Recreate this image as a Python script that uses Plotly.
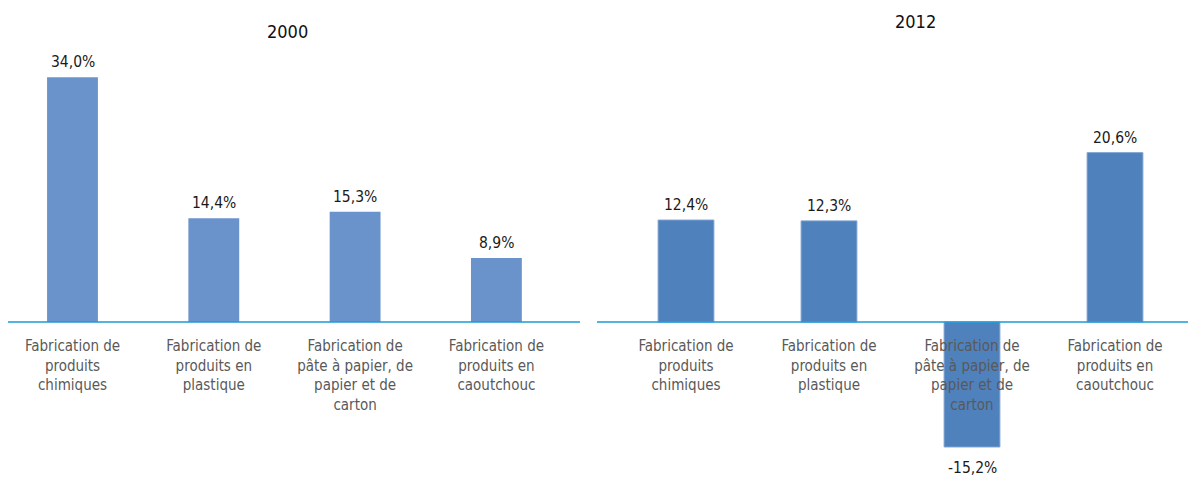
import plotly.graph_objects as go

categories = [
    "Fabrication de<br>produits<br>chimiques",
    "Fabrication de<br>produits en<br>plastique",
    "Fabrication de<br>pâte à papier, de<br>papier et de<br>carton",
    "Fabrication de<br>produits en<br>caoutchouc",
]
values_2000 = [34.0, 14.4, 15.3, 8.9]
values_2012 = [12.4, 12.3, -15.2, 20.6]
labels_2000 = ["34,0%", "14,4%", "15,3%", "8,9%"]
labels_2012 = ["12,4%", "12,3%", "-15,2%", "20,6%"]
titles = ["2000", "2012"]

# page body has an 8px margin -> figure is offset by 8px
OFF = 8
FW, FH = 1196 - OFF, 479 - OFF
FONT = "Liberation Sans Narrow, DejaVu Sans Condensed, sans-serif"


def px(p):  # reference x pixel -> paper fraction
    return (p - OFF) / FW


def py(p):  # reference y pixel -> paper fraction
    return (FH - (p - OFF)) / FH


fig = go.Figure()
fig.add_trace(go.Bar(x=categories, y=values_2000, xaxis="x", yaxis="y",
                     marker=dict(color="#6a93cc", line=dict(width=0)),
                     width=0.36, showlegend=False, hoverinfo="skip",
                     cliponaxis=False))
fig.add_trace(go.Bar(x=categories, y=values_2012, xaxis="x2", yaxis="y2",
                     marker=dict(color="#4f81bd", line=dict(color="#7aa0cf", width=1)),
                     width=0.39, showlegend=False, hoverinfo="skip",
                     cliponaxis=False))

annotations = []
for xa, ya, vals, labs in (("x", "y", values_2000, labels_2000),
                           ("x2", "y2", values_2012, labels_2012)):
    for c, v, l in zip(categories, vals, labs):
        annotations.append(dict(
            x=c, y=v, xref=xa, yref=ya, text=l, showarrow=False,
            yanchor="bottom" if v >= 0 else "top",
            yshift=4 if v >= 0 else -10,
            font=dict(family=FONT, size=15.5, color="#1a1a1a")))

annotations.append(dict(x=px(287), y=py(32), xref="paper", yref="paper",
                        xanchor="center", yanchor="middle",
                        text=titles[0], showarrow=False,
                        font=dict(family=FONT, size=18, color="#111111")))
annotations.append(dict(x=px(915), y=py(22), xref="paper", yref="paper",
                        xanchor="center", yanchor="middle",
                        text=titles[1], showarrow=False,
                        font=dict(family=FONT, size=18, color="#111111")))

shapes = [
    dict(type="line", xref="paper", yref="y", x0=px(8), x1=px(580), y0=0, y1=0,
         line=dict(color="#1b9bd7", width=1.5), layer="above"),
    dict(type="line", xref="paper", yref="y2", x0=px(597), x1=1, y0=0, y1=0,
         line=dict(color="#1b9bd7", width=1.5), layer="above"),
]

base_ref = 322
top_ref, bot_ref = 60, 450
y_dom = [py(bot_ref), py(top_ref)]
s_left, s_right = 7.2, 8.22  # px per unit

# left x axis: category spacing 141.3px, first centre at ref x 72.5
sp_l, c0_l = 141.3, 72.5
left_range = [-(c0_l - OFF) / sp_l, (567 - c0_l) / sp_l]

tick_font = dict(family=FONT, size=15, color="#595959")
fig.update_layout(
    width=FW, height=FH,
    margin=dict(l=0, r=0, t=0, b=0, autoexpand=False),
    paper_bgcolor="white", plot_bgcolor="white",
    font=dict(family=FONT, size=15, color="#595959"),
    xaxis=dict(domain=[0, px(567)], range=left_range, anchor="free",
               position=py(base_ref), showgrid=False,
               showline=False, zeroline=False, ticks="", tickangle=0, automargin=False,
               ticklabelstandoff=13, tickfont=tick_font),
    yaxis=dict(domain=y_dom,
               range=[-(bot_ref - base_ref) / s_left, (base_ref - top_ref) / s_left],
               visible=False, showgrid=False, zeroline=False),
    xaxis2=dict(domain=[px(614.5), px(1186.5)], range=[-0.5, 3.5], anchor="free",
                position=py(base_ref),
                showgrid=False, showline=False, zeroline=False, ticks="", tickangle=0,
                automargin=False, ticklabelstandoff=13, tickfont=tick_font),
    yaxis2=dict(domain=y_dom, anchor="x2",
                range=[-(bot_ref - base_ref) / s_right, (base_ref - top_ref) / s_right],
                visible=False, showgrid=False, zeroline=False),
    annotations=annotations,
    shapes=shapes,
    bargap=0.6,
)

fig.write_html("out.html")
